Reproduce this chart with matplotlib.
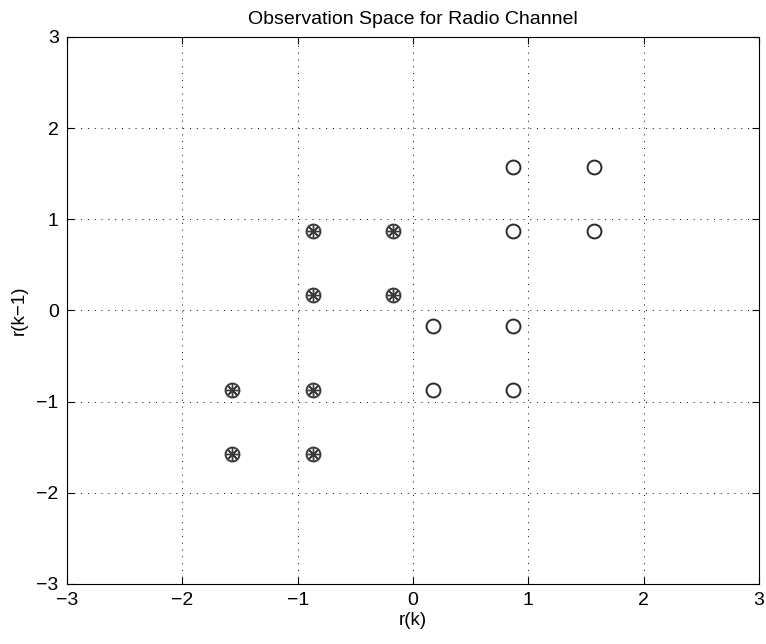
import matplotlib.pyplot as plt

plt.rcParams['font.family'] = ['Liberation Sans', 'DejaVu Sans']

# class 1 (circles)
x_circ = [0.87, 1.57, 0.87, 1.57, 0.17, 0.87, 0.17, 0.87]
y_circ = [1.57, 1.57, 0.87, 0.87, -0.17, -0.17, -0.87, -0.87]

# class 2 (asterisks in circles)
x_star = [-0.87, -0.17, -0.87, -0.17, -1.57, -0.87, -1.57, -0.87]
y_star = [0.87, 0.87, 0.17, 0.17, -0.87, -0.87, -1.57, -1.57]

ticks = [-3, -2, -1, 0, 1, 2, 3]
tick_labels = ['\u22123', '\u22122', '\u22121', '0', '1', '2', '3']

fig = plt.figure(figsize=(7.66, 6.44), dpi=100)
ax = fig.add_axes([0.0875, 0.0932, 0.9034, 0.8494])

ax.plot(x_circ, y_circ, 'o', mfc='none', mec='#2a2a2a', ms=10, mew=1.4)
ax.plot(x_star, y_star, marker=(8, 2, 0), ls='none', color='#3a3a3a', ms=9, mew=1.0)
ax.plot(x_star, y_star, 'o', mfc='none', mec='#3a3a3a', ms=10, mew=1.4)

ax.set_xlim(-3, 3)
ax.set_ylim(-3, 3)
ax.set_xticks(ticks)
ax.set_xticklabels(tick_labels)
ax.set_yticks(ticks)
ax.set_yticklabels(tick_labels)
ax.grid(True, ls=(0, (1, 6)), color='black', lw=0.7)
ax.tick_params(direction='in', top=True, right=True, labelsize=14, length=5, pad=6)
for s in ax.spines.values():
    s.set_linewidth(0.8)

ax.set_xlabel('r(k)', fontsize=13.5, labelpad=2)
ax.set_ylabel('r(k\u22121)', fontsize=13.5, labelpad=6)
ax.set_title('Observation Space for Radio Channel', fontsize=14, pad=9)

fig.savefig('out.png', dpi=100)
